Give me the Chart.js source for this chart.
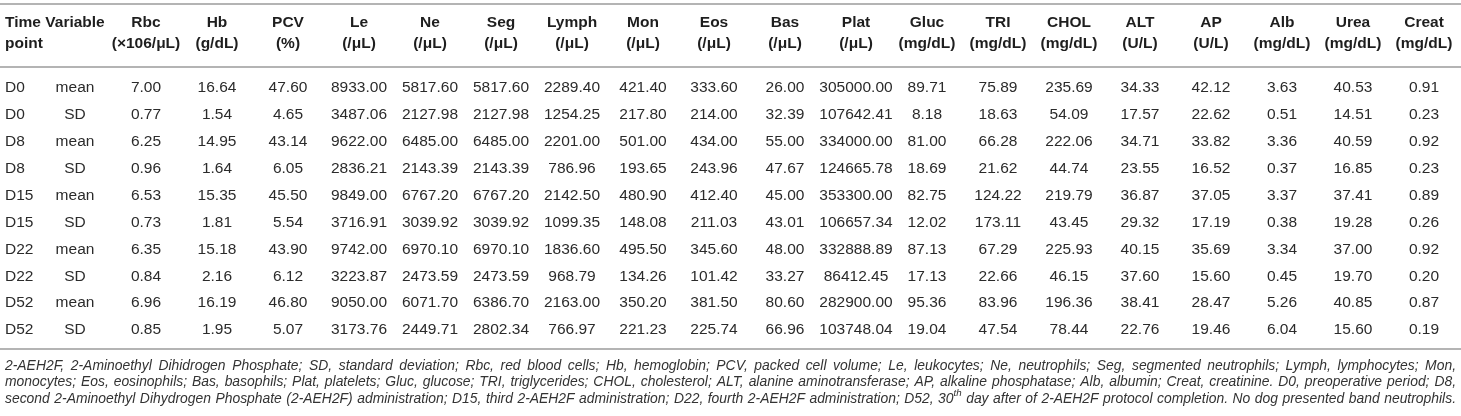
<!DOCTYPE html>
<html>
<head>
<meta charset="utf-8">
<style>
  html, body { margin: 0; padding: 0; background: #fff; }
  canvas { display: block; }
</style>
</head>
<body>
<canvas id="table" width="1461" height="416"></canvas>
<script src="https://cdn.jsdelivr.net/npm/chart.js@4.4.1/dist/chart.umd.min.js"></script>
<script>
// column headers (two lines each)
const headers = ["Time", "Variable", "Rbc", "Hb", "PCV", "Le", "Ne", "Seg", "Lymph", "Mon", "Eos", "Bas",
                 "Plat", "Gluc", "TRI", "CHOL", "ALT", "AP", "Alb", "Urea", "Creat"];
const units = ["point", "", "(\u00d7106/\u03bcL)", "(g/dL)", "(%)", "(/\u03bcL)", "(/\u03bcL)", "(/\u03bcL)", "(/\u03bcL)",
               "(/\u03bcL)", "(/\u03bcL)", "(/\u03bcL)", "(/\u03bcL)", "(mg/dL)", "(mg/dL)", "(mg/dL)", "(U/L)", "(U/L)",
               "(mg/dL)", "(mg/dL)", "(mg/dL)"];

// rows
const timePoints = ["D0", "D0", "D8", "D8", "D15", "D15", "D22", "D22", "D52", "D52"];
const variables = ["mean", "SD", "mean", "SD", "mean", "SD", "mean", "SD", "mean", "SD"];

// values per column
const rbc = [7.00, 0.77, 6.25, 0.96, 6.53, 0.73, 6.35, 0.84, 6.96, 0.85];
const hb = [16.64, 1.54, 14.95, 1.64, 15.35, 1.81, 15.18, 2.16, 16.19, 1.95];
const pcv = [47.60, 4.65, 43.14, 6.05, 45.50, 5.54, 43.90, 6.12, 46.80, 5.07];
const le = [8933.00, 3487.06, 9622.00, 2836.21, 9849.00, 3716.91, 9742.00, 3223.87, 9050.00, 3173.76];
const ne = [5817.60, 2127.98, 6485.00, 2143.39, 6767.20, 3039.92, 6970.10, 2473.59, 6071.70, 2449.71];
const seg = [5817.60, 2127.98, 6485.00, 2143.39, 6767.20, 3039.92, 6970.10, 2473.59, 6386.70, 2802.34];
const lymph = [2289.40, 1254.25, 2201.00, 786.96, 2142.50, 1099.35, 1836.60, 968.79, 2163.00, 766.97];
const mon = [421.40, 217.80, 501.00, 193.65, 480.90, 148.08, 495.50, 134.26, 350.20, 221.23];
const eos = [333.60, 214.00, 434.00, 243.96, 412.40, 211.03, 345.60, 101.42, 381.50, 225.74];
const bas = [26.00, 32.39, 55.00, 47.67, 45.00, 43.01, 48.00, 33.27, 80.60, 66.96];
const plat = [305000.00, 107642.41, 334000.00, 124665.78, 353300.00, 106657.34, 332888.89, 86412.45, 282900.00, 103748.04];
const gluc = [89.71, 8.18, 81.00, 18.69, 82.75, 12.02, 87.13, 17.13, 95.36, 19.04];
const tri = [75.89, 18.63, 66.28, 21.62, 124.22, 173.11, 67.29, 22.66, 83.96, 47.54];
const chol = [235.69, 54.09, 222.06, 44.74, 219.79, 43.45, 225.93, 46.15, 196.36, 78.44];
const alt = [34.33, 17.57, 34.71, 23.55, 36.87, 29.32, 40.15, 37.60, 38.41, 22.76];
const ap = [42.12, 22.62, 33.82, 16.52, 37.05, 17.19, 35.69, 15.60, 28.47, 19.46];
const alb = [3.63, 0.51, 3.36, 0.37, 3.37, 0.38, 3.34, 0.45, 5.26, 6.04];
const urea = [40.53, 14.51, 40.59, 16.85, 37.41, 19.28, 37.00, 19.70, 40.85, 15.60];
const creat = [0.91, 0.23, 0.92, 0.23, 0.89, 0.26, 0.92, 0.20, 0.87, 0.19];

const valueColumns = [rbc, hb, pcv, le, ne, seg, lymph, mon, eos, bas, plat, gluc, tri, chol, alt, ap, alb, urea, creat];

const footnotes = [
  "2-AEH2F, 2-Aminoethyl Dihidrogen Phosphate; SD, standard deviation; Rbc, red blood cells; Hb, hemoglobin; PCV, packed cell volume; Le, leukocytes; Ne, neutrophils; Seg, segmented neutrophils; Lymph, lymphocytes; Mon,",
  "monocytes; Eos, eosinophils; Bas, basophils; Plat, platelets; Gluc, glucose; TRI, triglycerides; CHOL, cholesterol; ALT, alanine aminotransferase; AP, alkaline phosphatase; Alb, albumin; Creat, creatinine. D0, preoperative period; D8,",
  "second 2-Aminoethyl Dihydrogen Phosphate (2-AEH2F) administration; D15, third 2-AEH2F administration; D22, fourth 2-AEH2F administration; D52, 30^th day after of 2-AEH2F protocol completion. No dog presented band neutrophils."
];

const FONT = '"Liberation Sans", Arial, sans-serif';

// width of a line with "^xx" superscript parts
function lineWidth(ctx, text, size) {
  return text.split(" ").reduce((sum, w, i) => {
    const p = w.split("^");
    ctx.font = "italic " + size + "px " + FONT;
    let width = ctx.measureText(p[0] + (i ? " " : "")).width;
    if (p[1]) { ctx.font = "italic " + size * 0.7 + "px " + FONT; width += ctx.measureText(p[1]).width; }
    return sum + width;
  }, 0);
}

// draws one justified line; "^xx" marks a superscript word part
function justifiedLine(ctx, text, x0, x1, y, size) {
  const words = text.split(" ");
  const norm = "italic " + size + "px " + FONT;
  const sup = "italic " + (size * 0.7) + "px " + FONT;
  const parts = words.map(w => w.split("^"));
  const widths = parts.map(p => {
    ctx.font = norm;
    let w = ctx.measureText(p[0]).width;
    if (p[1]) { ctx.font = sup; w += ctx.measureText(p[1]).width; }
    return w;
  });
  const total = widths.reduce((a, b) => a + b, 0);
  const gap = (x1 - x0 - total) / (words.length - 1);
  let x = x0;
  parts.forEach((p, i) => {
    ctx.font = norm;
    ctx.fillText(p[0], x, y);
    if (p[1]) {
      const w0 = ctx.measureText(p[0]).width;
      ctx.font = sup;
      ctx.fillText(p[1], x + w0, y - size * 0.4);
    }
    x += widths[i] + gap;
  });
}

const tablePlugin = {
  id: "tablePlugin",
  afterDraw(chart) {
    const ctx = chart.ctx;
    const xs = chart.scales.x;
    const ys = chart.scales.y;
    const top = ys.getPixelForValue(0);
    const bottom = ys.getPixelForValue(timePoints.length - 1);
    const W = chart.width;
    ctx.save();

    // rules
    ctx.strokeStyle = "#b4b4b4";
    ctx.lineWidth = 2;
    [top - 84, top - 21, bottom + 19].forEach(y => {
      ctx.beginPath();
      ctx.moveTo(0, y);
      ctx.lineTo(W, y);
      ctx.stroke();
    });

    ctx.textBaseline = "middle";

    // header
    ctx.fillStyle = "#1e1e1e";
    ctx.font = "bold 15.5px " + FONT;
    headers.forEach((h, i) => {
      ctx.textAlign = i === 0 ? "left" : "center";
      const x = xs.getPixelForValue(i) + (i === 0 ? 1 : 0);
      ctx.fillText(h, x, top - 65);
      if (units[i]) ctx.fillText(units[i], x, top - 44);
    });

    // body
    ctx.fillStyle = "#2b2b2b";
    ctx.font = "15.5px " + FONT;
    timePoints.forEach((t, r) => {
      const y = ys.getPixelForValue(r);
      ctx.textAlign = "left";
      ctx.fillText(t, xs.getPixelForValue(0) + 1, y);
      ctx.textAlign = "center";
      ctx.fillText(variables[r], xs.getPixelForValue(1), y);
      valueColumns.forEach((col, c) => {
        ctx.fillText(col[r].toFixed(2), xs.getPixelForValue(c + 2), y);
      });
    });

    // footnotes, sized so the longest line nearly fills the width
    const x0 = 5, x1 = W - 5;
    const natural = Math.max(...footnotes.map(l => lineWidth(ctx, l, 10)));
    const size = Math.floor(10 * (x1 - x0 - 6) / natural * 10) / 10;
    ctx.fillStyle = "#333";
    ctx.textAlign = "left";
    footnotes.forEach((line, i) => {
      justifiedLine(ctx, line, x0, x1, bottom + 36 + i * 16.5, size);
    });
    ctx.restore();
  }
};

new Chart(document.getElementById("table"), {
  type: "scatter",
  data: { datasets: [] },
  options: {
    responsive: false,
    animation: false,
    layout: { padding: { left: 4, right: 37, top: 88, bottom: 86 } },
    plugins: { legend: { display: false }, tooltip: { enabled: false } },
    scales: {
      x: { type: "category", labels: headers, offset: false, display: false },
      y: { type: "category", labels: timePoints.map((t, i) => t + variables[i]), offset: false, display: false }
    }
  },
  plugins: [tablePlugin]
});
</script>
</body>
</html>
